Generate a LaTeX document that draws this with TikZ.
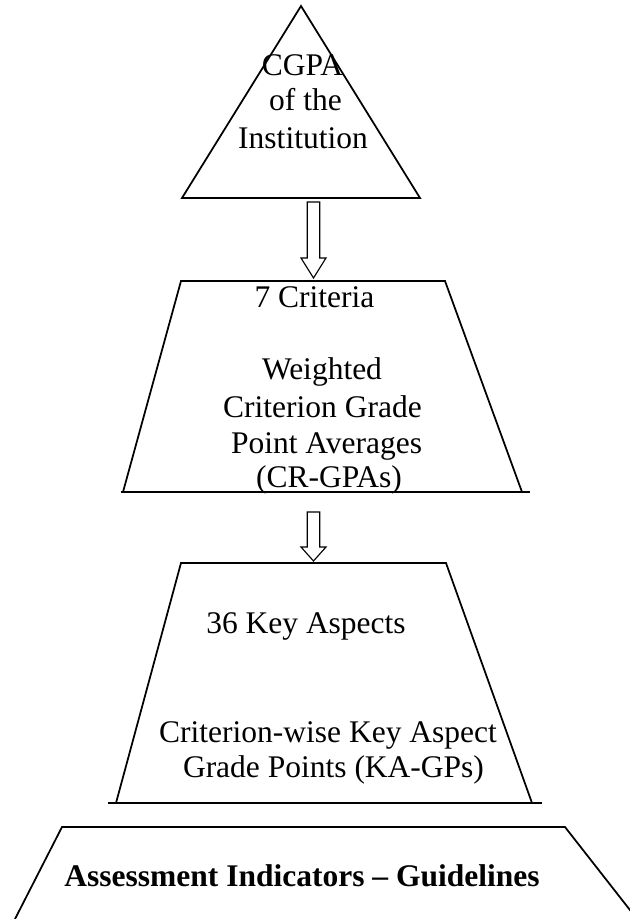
\documentclass[tikz,border=0pt]{standalone}
\usepackage{fontspec}
\setmainfont{Liberation Serif}
\usepackage{tikz}
\usetikzlibrary{calc}
\tikzset{
  tier/.style={draw=black, line width=0.7pt, line join=miter},
  tierline/.style={draw=black, line width=0.7pt},
  hollowarrow/.style={draw=black, line width=0.45pt, line join=miter},
  tiertext/.style={font=\fontsize{12.6}{14.4}\selectfont, anchor=base, inner sep=0pt},
  basetext/.style={font=\fontsize{12.6}{14.4}\selectfont\bfseries, anchor=base, inner sep=0pt}
}
\begin{document}
\begin{tikzpicture}[x=0.4pt, y=-0.4pt]
  \useasboundingbox (0,0) rectangle (630,919);
  \clip (0,0) rectangle (630,919);

  % Corner points
  \coordinate (apex) at (301,6);
  \coordinate (triL) at (182,198);
  \coordinate (triR) at (420,198);
  \coordinate (crTL) at (181,281);
  \coordinate (crTR) at (445,281);
  \coordinate (crBL) at (123,492);
  \coordinate (crBR) at (522,492);
  \coordinate (kaTL) at (181,563);
  \coordinate (kaTR) at (446,563);
  \coordinate (kaBL) at (116,803);
  \coordinate (kaBR) at (532,803);
  \coordinate (aiTL) at (62,827);
  \coordinate (aiTR) at (565,827);
  \coordinate (aiBL) at (15,919);
  \coordinate (aiBR) at (637,919);

  % Top triangle
  \draw[tier] (triL) -- (apex) -- (triR) -- cycle;

  % Criteria trapezoid
  \draw[tier] (crBL) -- (crTL) -- (crTR) -- (crBR);
  \draw[tierline] ($(crBL)+(-2,0)$) -- ($(crBR)+(8,0)$);

  % Key aspects trapezoid
  \draw[tier] (kaBL) -- (kaTL) -- (kaTR) -- (kaBR);
  \draw[tierline] ($(kaBL)+(-8,0)$) -- ($(kaBR)+(10,0)$);

  % Base trapezoid
  \draw[tier] (aiBL) -- (aiTL) -- (aiTR) -- (aiBR);

  % Block arrows
  \coordinate (arrowA) at (313.5,202);
  \coordinate (arrowAtip) at (313.5,278);
  \draw[hollowarrow] ($(arrowA)+(-6.25,0)$) -- ($(arrowA)+(6.25,0)$)
    -- ($(arrowAtip)+(6.25,-20)$) -- ($(arrowAtip)+(12.5,-20)$) -- (arrowAtip)
    -- ($(arrowAtip)+(-12.5,-20)$) -- ($(arrowAtip)+(-6.25,-20)$) -- cycle;
  \coordinate (arrowB) at (313.5,512);
  \coordinate (arrowBtip) at (313.5,561);
  \draw[hollowarrow] ($(arrowB)+(-6.25,0)$) -- ($(arrowB)+(6.25,0)$)
    -- ($(arrowBtip)+(6.25,-14)$) -- ($(arrowBtip)+(12.5,-14)$) -- (arrowBtip)
    -- ($(arrowBtip)+(-12.5,-14)$) -- ($(arrowBtip)+(-6.25,-14)$) -- cycle;

  % Triangle text
  \node[tiertext] (cgpa) at (302.5,76) {CGPA};
  \node[tiertext] (ofthe) at (305.5,110) {of the};
  \node[tiertext] (inst) at (303,148) {Institution};

  % Criteria text
  \node[tiertext] (seven) at (314.5,307) {7 Criteria};
  \node[tiertext] (weighted) at (322,379) {Weighted};
  \node[tiertext] (crgrade) at (322.5,417) {Criterion Grade};
  \node[tiertext] (pointavg) at (326.5,453) {Point Averages};
  \node[tiertext] (crgpa) at (329,487) {(CR-GPAs)};

  % Key aspects text
  \node[tiertext] (thirtysix) at (306,633) {36 Key Aspects};
  \node[tiertext] (cwise) at (328,742) {Criterion-wise Key Aspect};
  \node[tiertext] (kagp) at (333.5,777) {Grade Points (KA-GPs)};

  % Base text
  \node[basetext] (indic) at (302,886) {Assessment Indicators -- Guidelines};
\end{tikzpicture}
\end{document}
